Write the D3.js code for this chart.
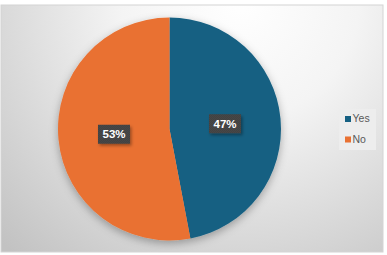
<!DOCTYPE html>
<html>
<head>
<meta charset="utf-8">
<script src="https://cdn.jsdelivr.net/npm/d3@7"></script>
<style>
  html, body { margin: 0; padding: 0; background: #fff; }
  svg { display: block; font-family: "Liberation Sans", Arial, sans-serif; }
</style>
</head>
<body>
<div id="chart"></div>
<script>
const categories = ['Yes', 'No'];
const values     = [47, 53];
const colors     = ['#156082', '#E97132'];

const width = 387, height = 255;
const frame = {x: 1, y: 5, w: 382, h: 247};
const cx = 169.5, cy = 129, radius = 111.5;

const svg = d3.select('#chart').append('svg')
  .attr('width', width)
  .attr('height', height);

const defs = svg.append('defs');

// background gradient
const grad = defs.append('radialGradient')
  .attr('id', 'bg')
  .attr('gradientUnits', 'userSpaceOnUse')
  .attr('cx', 240).attr('cy', 0).attr('r', 340);
grad.append('stop').attr('offset', '0%').attr('stop-color', '#ffffff');
grad.append('stop').attr('offset', '35%').attr('stop-color', '#f4f4f4');
grad.append('stop').attr('offset', '100%').attr('stop-color', '#c2c2c2');

// soft shadow for pie and labels
const shadow = defs.append('filter')
  .attr('id', 'shadow')
  .attr('x', '-20%').attr('y', '-20%')
  .attr('width', '140%').attr('height', '140%');
shadow.append('feDropShadow')
  .attr('dx', 0).attr('dy', 3)
  .attr('stdDeviation', 4)
  .attr('flood-color', '#000')
  .attr('flood-opacity', 0.3);

const boxShadow = defs.append('filter')
  .attr('id', 'boxShadow')
  .attr('x', '-30%').attr('y', '-30%')
  .attr('width', '160%').attr('height', '170%');
boxShadow.append('feDropShadow')
  .attr('dx', 1.5).attr('dy', 2)
  .attr('stdDeviation', 1.5)
  .attr('flood-color', '#000')
  .attr('flood-opacity', 0.35);

// dotted texture in label boxes
const pat = defs.append('pattern')
  .attr('id', 'dots')
  .attr('patternUnits', 'userSpaceOnUse')
  .attr('width', 2).attr('height', 2);
pat.append('rect').attr('width', 2).attr('height', 2).attr('fill', '#3f3f3f');
pat.append('rect').attr('width', 1).attr('height', 1).attr('fill', '#4a4a4a');
pat.append('rect').attr('x', 1).attr('y', 1).attr('width', 1).attr('height', 1).attr('fill', '#4a4a4a');

// chart area
svg.append('rect')
  .attr('x', frame.x).attr('y', frame.y)
  .attr('width', frame.w).attr('height', frame.h)
  .attr('fill', 'url(#bg)')
  .attr('stroke', '#d4d4d4')
  .attr('stroke-width', 1);

const pie = d3.pie().sort(null).value(d => d);
const arcs = pie(values);
const arc = d3.arc().innerRadius(0).outerRadius(radius);

const g = svg.append('g').attr('transform', `translate(${cx},${cy})`);

g.append('g')
  .attr('filter', 'url(#shadow)')
  .selectAll('path')
  .data(arcs)
  .enter().append('path')
  .attr('d', arc)
  .attr('fill', (d, i) => colors[i]);

// data labels
const total = d3.sum(values);
const labels = g.selectAll('.lbl')
  .data(arcs)
  .enter().append('g')
  .attr('class', 'lbl')
  .attr('transform', d => `translate(${arc.centroid(d)})`);

labels.append('rect')
  .attr('x', -16).attr('y', -9.5)
  .attr('width', 32).attr('height', 19)
  .attr('fill', 'url(#dots)')
  .attr('filter', 'url(#boxShadow)');

labels.append('text')
  .attr('text-anchor', 'middle')
  .attr('dy', '0.36em')
  .attr('fill', '#ffffff')
  .attr('font-weight', 'bold')
  .attr('font-size', 11.5)
  .text(d => Math.round(d.value / total * 100) + '%');

// legend
const legend = svg.append('g').attr('transform', 'translate(339,109)');
legend.append('rect')
  .attr('width', 37).attr('height', 41)
  .attr('fill', '#ededed');

const items = legend.selectAll('.item')
  .data(categories)
  .enter().append('g')
  .attr('class', 'item')
  .attr('transform', (d, i) => `translate(6,${7 + i * 20.5})`);

items.append('rect')
  .attr('width', 6).attr('height', 6)
  .attr('fill', (d, i) => colors[i]);

items.append('text')
  .attr('x', 7.5).attr('y', 6)
  .attr('fill', '#595959')
  .attr('font-size', 10.5)
  .text(d => d);
</script>
</body>
</html>
